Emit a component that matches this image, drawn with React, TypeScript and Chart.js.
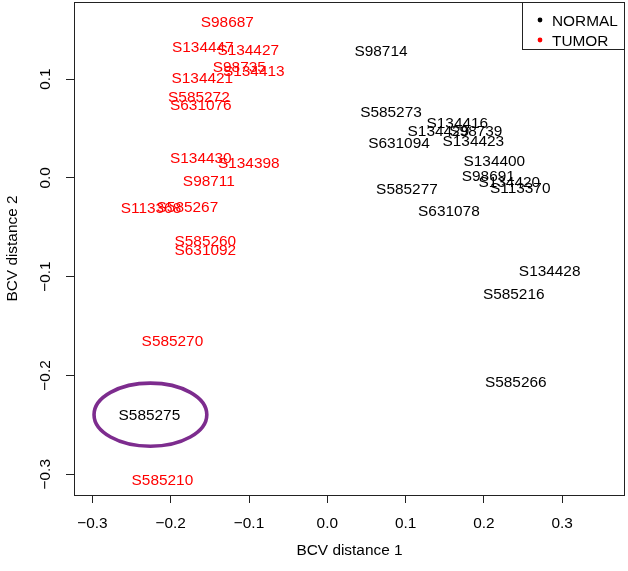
import React, { useEffect, useRef } from "react";
import { Chart, registerables } from "chart.js";

Chart.register(...registerables);

// ---- data ----
const normalLabels = [
  "S98714", "S585273", "S134416", "S134429", "S98739", "S631094", "S134423", "S134400",
  "S98691", "S134420", "S113370", "S585277", "S631078", "S134428", "S585216", "S585266", "S585275",
];
const normalX = [
  0.0686, 0.0813, 0.1661, 0.1419, 0.1897, 0.0915, 0.1865, 0.2133,
  0.2056, 0.2324, 0.2464, 0.1017, 0.1553, 0.284, 0.2381, 0.2407, -0.2272,
];
const normalY = [
  0.1289, 0.0671, 0.056, 0.0478, 0.0478, 0.0357, 0.0382, 0.0175,
  0.0028, -0.0038, -0.0099, -0.0104, -0.0327, -0.0939, -0.1172, -0.2063, -0.2397,
];

const tumorLabels = [
  "S98687", "S134447", "S134427", "S98735", "S134413", "S134421", "S585272", "S631076",
  "S134430", "S134398", "S98711", "S113368", "S585267", "S585260", "S631092", "S585270", "S585210",
];
const tumorX = [
  -0.1277, -0.159, -0.101, -0.1124, -0.0939, -0.1596, -0.164, -0.1615,
  -0.1615, -0.1003, -0.1513, -0.2252, -0.1787, -0.1558, -0.1558, -0.1978, -0.2106,
];
const tumorY = [
  0.1587, 0.1334, 0.1304, 0.1127, 0.1086, 0.1015, 0.0823, 0.0747,
  0.021, 0.0159, -0.0023, -0.0301, -0.0286, -0.063, -0.0722, -0.1643, -0.3051,
];

const seriesNames = ["NORMAL", "TUMOR"];
const seriesColors = ["#000000", "#ff0000"];

const xTicks = [-0.3, -0.2, -0.1, 0.0, 0.1, 0.2, 0.3];
const yTicks = [-0.3, -0.2, -0.1, 0.0, 0.1];

const xRange = [-0.3235, 0.3802];
const yRange = [-0.3210, 0.1780];

// highlighted sample (ellipse around S585275)
const highlight = { cx: -0.2259, cy: -0.2397, rx: 0.072, ry: 0.0319 };

const FONT_FAMILY = "'Liberation Sans', Arial, Helvetica, sans-serif";
const FONT_SIZE = 15.4;

const fmt = (v: number) => {
  const s = Math.abs(v).toFixed(1);
  return v < -1e-9 ? "\u2212" + s : s;
};

const labelsPlugin = {
  id: "mdsLabels",
  afterDatasetsDraw(chart: any) {
    const ctx = chart.ctx;
    const lbls = [normalLabels, tumorLabels];
    ctx.save();
    ctx.font = `${FONT_SIZE}px ${FONT_FAMILY}`;
    ctx.textAlign = "center";
    ctx.textBaseline = "alphabetic";
    chart.data.datasets.forEach((ds: any, di: number) => {
      const meta = chart.getDatasetMeta(di);
      ctx.fillStyle = seriesColors[di];
      meta.data.forEach((pt: any, i: number) => {
        ctx.fillText(lbls[di][i], pt.x, pt.y + FONT_SIZE * 0.358);
      });
    });
    ctx.restore();
  },
};

const framePlugin = {
  id: "rFrame",
  afterDraw(chart: any) {
    const ctx = chart.ctx;
    const a = chart.chartArea;
    const xs = chart.scales.x;
    const ys = chart.scales.y;
    ctx.save();
    // box
    ctx.strokeStyle = "#222";
    ctx.lineWidth = 1;
    ctx.strokeRect(Math.round(a.left) + 0.5, Math.round(a.top) + 0.5,
      Math.round(a.right - a.left) - 1, Math.round(a.bottom - a.top));
    // rotated y tick labels
    ctx.fillStyle = "#000";
    ctx.font = `${FONT_SIZE}px ${FONT_FAMILY}`;
    ctx.textAlign = "center";
    ctx.textBaseline = "middle";
    yTicks.forEach((v) => {
      const py = ys.getPixelForValue(v);
      ctx.save();
      ctx.translate(46, py);
      ctx.rotate(-Math.PI / 2);
      ctx.fillText(fmt(v), 0, 0);
      ctx.restore();
    });
    // ellipse
    const cx = xs.getPixelForValue(highlight.cx);
    const cy = ys.getPixelForValue(highlight.cy);
    const rx = xs.getPixelForValue(highlight.cx + highlight.rx) - cx;
    const ry = cy - ys.getPixelForValue(highlight.cy + highlight.ry);
    ctx.beginPath();
    ctx.ellipse(cx, cy, rx, ry, 0, 0, Math.PI * 2);
    ctx.strokeStyle = "#7d2c8e";
    ctx.lineWidth = 3.6;
    ctx.stroke();
    // legend box (top right)
    const lw = 102;
    const lh = 47;
    const lx = Math.round(a.right) - lw - 1;
    const ly = Math.round(a.top);
    ctx.fillStyle = "#fff";
    ctx.fillRect(lx, ly, lw, lh);
    ctx.strokeStyle = "#222";
    ctx.lineWidth = 1;
    ctx.strokeRect(lx + 0.5, ly + 0.5, lw, lh);
    ctx.textAlign = "left";
    ctx.textBaseline = "alphabetic";
    seriesNames.forEach((name, i) => {
      const rowY = ly + 18 + i * 20;
      ctx.fillStyle = seriesColors[i];
      ctx.beginPath();
      ctx.arc(lx + 18, rowY, 2.4, 0, Math.PI * 2);
      ctx.fill();
      ctx.fillStyle = "#000";
      ctx.fillText(name, lx + 30, rowY + FONT_SIZE * 0.358);
    });
    ctx.restore();
  },
};

export default function App() {
  const ref = useRef<HTMLCanvasElement | null>(null);

  useEffect(() => {
    if (!ref.current) return;
    const mk = (xs: number[], ys: number[]) => xs.map((x, i) => ({ x, y: ys[i] }));
    const chart = new Chart(ref.current, {
      type: "scatter",
      data: {
        datasets: [
          { label: seriesNames[0], data: mk(normalX, normalY), pointRadius: 0, pointHoverRadius: 0, backgroundColor: seriesColors[0], borderColor: seriesColors[0] },
          { label: seriesNames[1], data: mk(tumorX, tumorY), pointRadius: 0, pointHoverRadius: 0, backgroundColor: seriesColors[1], borderColor: seriesColors[1] },
        ],
      },
      options: {
        responsive: false,
        animation: false,
        events: [],
        layout: { padding: { top: 2, right: 3, left: 0, bottom: 0 } },
        plugins: { legend: { display: false }, tooltip: { enabled: false } },
        scales: {
          x: {
            type: "linear",
            position: "bottom",
            min: xRange[0],
            max: xRange[1],
            afterBuildTicks: (s: any) => { s.ticks = xTicks.map((v) => ({ value: v })); },
            afterFit: (s: any) => { s.height = 76; },
            grid: { drawOnChartArea: false, drawTicks: true, tickLength: 8, color: "#222" },
            border: { display: false },
            ticks: {
              color: "#000",
              padding: 12,
              maxRotation: 0,
              autoSkip: false,
              font: { family: FONT_FAMILY, size: FONT_SIZE },
              callback: (v: any) => fmt(Number(v)),
            },
            title: {
              display: true,
              text: "BCV distance 1",
              color: "#000",
              font: { family: FONT_FAMILY, size: FONT_SIZE },
              padding: { top: 0, bottom: 11 },
            },
          },
          y: {
            type: "linear",
            position: "left",
            min: yRange[0],
            max: yRange[1],
            afterBuildTicks: (s: any) => { s.ticks = yTicks.map((v) => ({ value: v })); },
            afterFit: (s: any) => { s.width = 74; },
            grid: { drawOnChartArea: false, drawTicks: true, tickLength: 8, color: "#222" },
            border: { display: false },
            ticks: { display: false },
            title: {
              display: true,
              text: "BCV distance 2",
              color: "#000",
              font: { family: FONT_FAMILY, size: FONT_SIZE },
              padding: { top: 4, bottom: 0 },
            },
          },
        },
      },
      plugins: [labelsPlugin, framePlugin],
    });
    return () => chart.destroy();
  }, []);

  return (
    <div style={{ position: "absolute", left: 0, top: 0, width: 628, height: 571, background: "#fff" }}>
      <canvas ref={ref} width={628} height={571} style={{ display: "block" }} />
    </div>
  );
}
